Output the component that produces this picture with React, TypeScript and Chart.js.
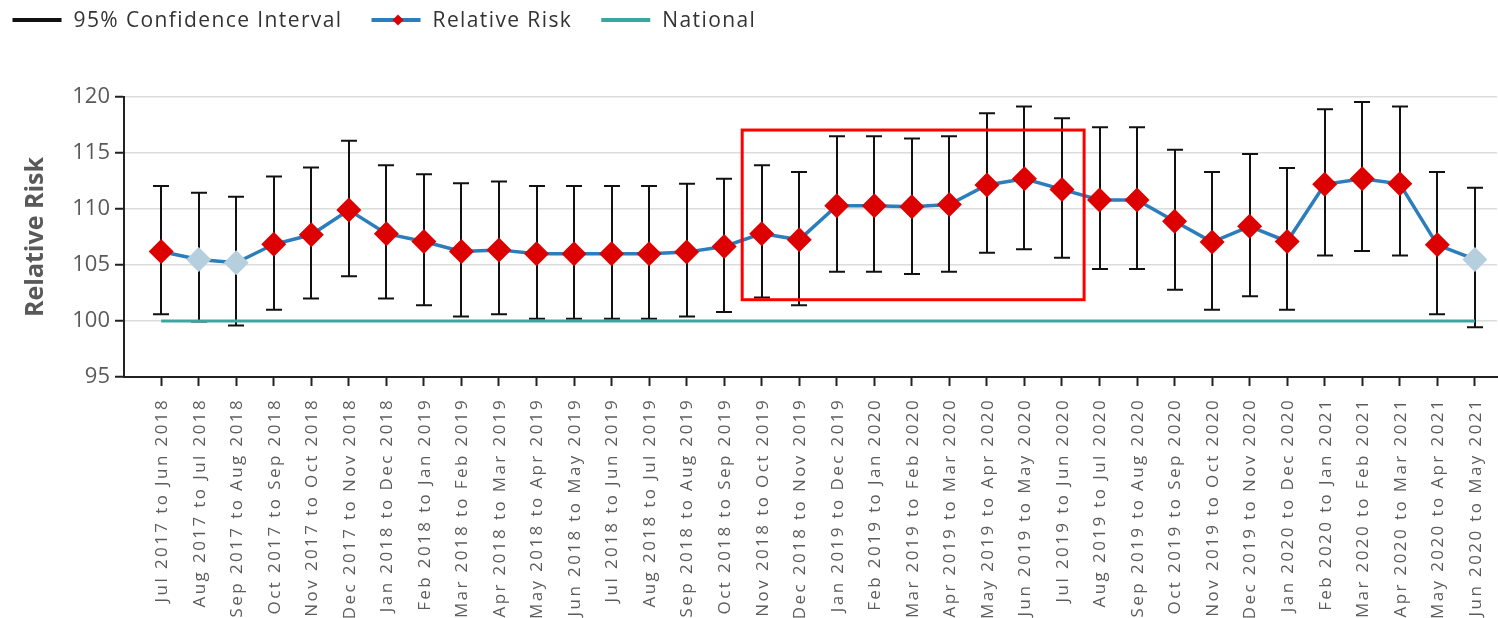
import React, { useEffect, useRef } from "react";
import { Chart, registerables } from "chart.js";

Chart.register(...registerables);

const periods: string[] = [
  "Jul 2017 to Jun 2018", "Aug 2017 to Jul 2018", "Sep 2017 to Aug 2018", "Oct 2017 to Sep 2018",
  "Nov 2017 to Oct 2018", "Dec 2017 to Nov 2018", "Jan 2018 to Dec 2018", "Feb 2018 to Jan 2019",
  "Mar 2018 to Feb 2019", "Apr 2018 to Mar 2019", "May 2018 to Apr 2019", "Jun 2018 to May 2019",
  "Jul 2018 to Jun 2019", "Aug 2018 to Jul 2019", "Sep 2018 to Aug 2019", "Oct 2018 to Sep 2019",
  "Nov 2018 to Oct 2019", "Dec 2018 to Nov 2019", "Jan 2019 to Dec 2019", "Feb 2019 to Jan 2020",
  "Mar 2019 to Feb 2020", "Apr 2019 to Mar 2020", "May 2019 to Apr 2020", "Jun 2019 to May 2020",
  "Jul 2019 to Jun 2020", "Aug 2019 to Jul 2020", "Sep 2019 to Aug 2020", "Oct 2019 to Sep 2020",
  "Nov 2019 to Oct 2020", "Dec 2019 to Nov 2020", "Jan 2020 to Dec 2020", "Feb 2020 to Jan 2021",
  "Mar 2020 to Feb 2021", "Apr 2020 to Mar 2021", "May 2020 to Apr 2021", "Jun 2020 to May 2021",
];

const relativeRisk: number[] = [
  106.2, 105.5, 105.2, 106.85, 107.7, 109.9, 107.8, 107.1, 106.2, 106.35,
  106.0, 106.0, 106.0, 106.0, 106.15, 106.65, 107.8, 107.25, 110.3, 110.3,
  110.2, 110.4, 112.15, 112.7, 111.75, 110.8, 110.8, 108.9, 107.05, 108.45,
  107.1, 112.2, 112.7, 112.25, 106.8, 105.5,
];

const ciLower: number[] = [
  100.6, 99.95, 99.6, 101.0, 102.0, 104.0, 102.0, 101.4, 100.4, 100.6,
  100.2, 100.2, 100.2, 100.2, 100.4, 100.8, 102.1, 101.4, 104.4, 104.4,
  104.2, 104.4, 106.1, 106.4, 105.65, 104.65, 104.65, 102.8, 101.0, 102.2,
  101.0, 105.85, 106.25, 105.85, 100.6, 99.45,
];

const ciUpper: number[] = [
  112.05, 111.45, 111.1, 112.9, 113.7, 116.1, 113.9, 113.1, 112.3, 112.45,
  112.05, 112.05, 112.05, 112.05, 112.25, 112.7, 113.9, 113.3, 116.5, 116.5,
  116.3, 116.5, 118.55, 119.15, 118.1, 117.3, 117.3, 115.3, 113.3, 114.9,
  113.65, 118.9, 119.55, 119.15, 113.3, 111.9,
];

const nationalValue = 100;
const yMin = 95;
const yMax = 120;
const yStep = 5;

// highlighted region (in data units: period index and relative risk)
const highlightFrom = 15.48;
const highlightTo = 24.59;
const highlightLow = 101.9;
const highlightHigh = 117.05;

const legendItems = ["95% Confidence Interval", "Relative Risk", "National"];

const FONT = "'Open Sans', 'Noto Sans', sans-serif";
const COLOR_LINE = "#2b7dbc";
const COLOR_SIG = "#dd0000";
const COLOR_NS = "#b5cfdf";
const COLOR_NAT = "#3aa6a0";

export default function App() {
  const canvasRef = useRef<HTMLCanvasElement | null>(null);

  useEffect(() => {
    const canvas = canvasRef.current;
    if (!canvas) return;

    const errorBars = {
      id: "errorBars",
      beforeDatasetsDraw(chart: any) {
        const { ctx, scales } = chart;
        const xs = scales.x;
        const ys = scales.y;
        ctx.save();
        ctx.strokeStyle = "#111";
        ctx.lineWidth = 2;
        for (let i = 0; i < relativeRisk.length; i++) {
          const x = Math.round(xs.getPixelForValue(i));
          const yl = ys.getPixelForValue(ciLower[i]);
          const yh = ys.getPixelForValue(ciUpper[i]);
          ctx.beginPath();
          ctx.moveTo(x, yl);
          ctx.lineTo(x, yh);
          ctx.moveTo(x - 8, yl);
          ctx.lineTo(x + 8, yl);
          ctx.moveTo(x - 8, yh);
          ctx.lineTo(x + 8, yh);
          ctx.stroke();
        }
        ctx.restore();
      },
    };

    const overlay = {
      id: "overlay",
      afterDraw(chart: any) {
        const { ctx, scales, chartArea } = chart;
        const xs = scales.x;
        const ys = scales.y;
        ctx.save();
        // highlight box
        const bx1 = xs.getPixelForValue(highlightFrom);
        const bx2 = xs.getPixelForValue(highlightTo);
        const by1 = ys.getPixelForValue(highlightHigh);
        const by2 = ys.getPixelForValue(highlightLow);
        ctx.strokeStyle = "#ff0000";
        ctx.lineWidth = 3;
        ctx.strokeRect(bx1, by1, bx2 - bx1, by2 - by1);

        // x labels (rotated)
        ctx.fillStyle = "#5c5c5c";
        ctx.font = `17px ${FONT}`;
        (ctx as any).letterSpacing = "2.4px";
        ctx.textAlign = "right";
        ctx.textBaseline = "middle";
        for (let i = 0; i < periods.length; i++) {
          const x = xs.getPixelForValue(i);
          ctx.save();
          ctx.translate(x + 1, chartArea.bottom + 21);
          ctx.rotate(-Math.PI / 2);
          ctx.fillText(periods[i], 0, 0);
          ctx.restore();
        }

        // legend
        (ctx as any).letterSpacing = "1.4px";
        ctx.font = `21px ${FONT}`;
        ctx.textAlign = "left";
        ctx.textBaseline = "middle";
        const ly = 20;
        let lx = 12.5;
        const lineLen = 49;
        const colors = ["#111", COLOR_LINE, COLOR_NAT];
        legendItems.forEach((label, k) => {
          ctx.strokeStyle = colors[k];
          ctx.lineWidth = 4;
          ctx.beginPath();
          ctx.moveTo(lx, ly);
          ctx.lineTo(lx + lineLen, ly);
          ctx.stroke();
          if (k === 1) {
            const cx = lx + lineLen / 2 + 2;
            ctx.fillStyle = COLOR_SIG;
            ctx.beginPath();
            ctx.moveTo(cx, ly - 5.5);
            ctx.lineTo(cx + 5.5, ly);
            ctx.lineTo(cx, ly + 5.5);
            ctx.lineTo(cx - 5.5, ly);
            ctx.closePath();
            ctx.fill();
          }
          ctx.fillStyle = "#333";
          const tx = lx + lineLen + 12;
          ctx.fillText(label, tx, ly + 1);
          lx = tx + ctx.measureText(label).width + 29;
        });
        ctx.restore();
      },
    };

    const rrData = relativeRisk.map((v, i) => ({ x: i, y: v }));
    const natData = periods.map((_, i) => ({ x: i, y: nationalValue }));
    const pointColors = relativeRisk.map((_, i) => (ciLower[i] <= nationalValue ? COLOR_NS : COLOR_SIG));

    const chart = new Chart(canvas, {
      type: "line",
      data: {
        datasets: [
          {
            label: "Relative Risk",
            data: rrData,
            borderColor: COLOR_LINE,
            borderWidth: 3.5,
            tension: 0,
            pointStyle: "rectRot",
            pointRadius: 12.5,
            pointBorderWidth: 0,
            pointBackgroundColor: pointColors,
            pointBorderColor: pointColors,
          },
          {
            label: "National",
            data: natData,
            borderColor: COLOR_NAT,
            borderWidth: 3,
            pointRadius: 0,
            tension: 0,
          },
        ],
      },
      options: {
        responsive: false,
        animation: false,
        layout: { autoPadding: false, padding: { top: 97, right: 1, left: 0, bottom: 0 } },
        plugins: {
          legend: { display: false },
          tooltip: { enabled: false },
        },
        scales: {
          x: {
            type: "linear",
            min: -0.99,
            max: 35.59,
            afterFit: (scale: any) => {
              scale.height = 241;
            },
            ticks: {
              display: false,
              stepSize: 1,
              includeBounds: false,
              maxTicksLimit: 60,
              autoSkip: false,
            },
            grid: {
              drawOnChartArea: false,
              drawTicks: true,
              tickLength: 9,
              tickColor: "#222",
              tickWidth: 2,
            },
            border: { color: "#222", width: 2 },
          },
          y: {
            min: yMin,
            max: yMax,
            afterFit: (scale: any) => {
              scale.width = 124;
            },
            ticks: {
              stepSize: yStep,
              padding: 5,
              color: "#5a5a5a",
              font: { family: FONT, size: 22 },
            },
            grid: {
              color: "#dcdcdc",
              lineWidth: 1.5,
              tickLength: 9,
              tickColor: "#222",
              tickWidth: 2,
            },
            border: { color: "#222", width: 2 },
            title: {
              display: true,
              text: "Relative Risk",
              color: "#595959",
              font: { family: FONT, size: 25, weight: "bold" },
              padding: { top: 21, bottom: 0 },
            },
          },
        },
      },
      plugins: [errorBars, overlay],
    } as any);

    return () => chart.destroy();
  }, []);

  return (
    <div style={{ position: "absolute", left: 0, top: 0, width: 1498, height: 618, background: "#fff" }}>
      <canvas ref={canvasRef} width={1498} height={618} />
    </div>
  );
}
